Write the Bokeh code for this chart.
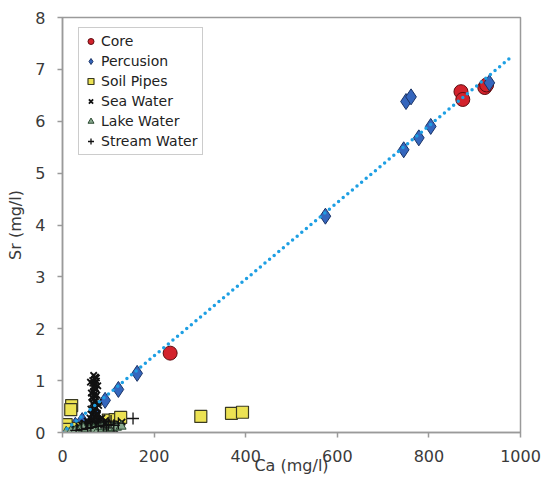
from bokeh.plotting import figure
from bokeh.models import Legend, LegendItem, FixedTicker, Range1d
from bokeh.embed import file_html
from bokeh.resources import INLINE

# Ca (mg/l) vs Sr (mg/l) by sample type
core_ca = [235, 870, 874, 922, 926]
core_sr = [1.53, 6.57, 6.42, 6.65, 6.70]

perc_ca = [28, 43, 70, 93, 122, 163, 574, 745, 750, 761, 778, 804, 932]
perc_sr = [0.14, 0.23, 0.39, 0.62, 0.83, 1.14, 4.17, 5.45, 6.38, 6.47, 5.68, 5.90, 6.74]

soil_ca = [20, 18, 8, 6, 35, 100, 115, 127, 302, 369, 393]
soil_sr = [0.52, 0.44, 0.15, 0.06, 0.08, 0.24, 0.25, 0.29, 0.31, 0.37, 0.39]

sea_ca = [68, 72, 70, 74, 66, 71, 69, 73, 67, 70, 72, 68, 71, 66, 69, 73, 67,
          70, 64, 72, 60, 75, 62, 58, 78, 55, 80, 50, 45, 85, 40, 90, 35, 95,
          30, 100, 25, 105, 20, 110, 15, 60, 65, 75, 80, 85, 52, 48, 88, 92,
          76, 63, 57, 70, 68, 73, 118, 125,
          74, 66, 70, 72, 68, 75, 65, 71, 69, 73, 67, 76, 64, 70, 72, 66,
          42, 56, 62, 84, 96, 102, 108, 114, 120, 130, 36, 46, 54, 82, 94,
          100, 112, 28, 38, 86, 98,
          77, 63, 78, 62, 76, 64, 79, 61]
sea_sr = [1.10, 1.07, 1.03, 0.99, 0.95, 0.91, 0.87, 0.83, 0.78, 0.74, 0.69,
          0.65, 0.60, 0.56, 0.51, 0.47, 0.43, 0.39, 0.35, 0.31, 0.28, 0.25,
          0.22, 0.19, 0.17, 0.15, 0.13, 0.12, 0.10, 0.11, 0.08, 0.10, 0.06,
          0.09, 0.05, 0.08, 0.04, 0.07, 0.03, 0.09, 0.02, 0.05, 0.12, 0.15,
          0.06, 0.04, 0.03, 0.18, 0.14, 0.05, 0.36, 0.20, 0.08, 0.16, 0.24,
          0.29, 0.12, 0.16,
          1.05, 1.00, 0.93, 0.86, 0.80, 0.72, 0.67, 0.62, 0.54, 0.49, 0.41,
          0.37, 0.26, 0.21, 0.14, 0.10, 0.14, 0.18, 0.09, 0.16, 0.19, 0.12,
          0.17, 0.06, 0.11, 0.20, 0.12, 0.17, 0.22, 0.26, 0.23, 0.03, 0.02,
          0.07, 0.09, 0.28, 0.04,
          0.90, 0.76, 0.58, 0.45, 0.33, 0.68, 0.52, 0.97]

lake_ca = [8, 18, 28, 38, 48, 58, 68, 78, 88, 98, 108, 118, 128, 45, 85]
lake_sr = [0.01, 0.02, 0.03, 0.04, 0.03, 0.05, 0.06, 0.05, 0.07, 0.08, 0.09,
           0.10, 0.12, 0.08, 0.11]

stream_ca = [154, 30, 42, 55, 62, 78, 90, 100, 112, 122, 84, 96, 106]
stream_sr = [0.27, 0.04, 0.06, 0.08, 0.10, 0.12, 0.13, 0.15, 0.14, 0.18, 0.20, 0.09, 0.22]

# linear trend through the whole data set
trend_ca = [0, 980]
trend_sr = [0.0, 7.24]

x_ticks = [0, 200, 400, 600, 800, 1000]
y_ticks = [0, 1, 2, 3, 4, 5, 6, 7, 8]

FONT = "DejaVu Sans"
TEXT = "#3a3a3a"
GRAYLINE = "#9a9a9a"

p = figure(width=543, height=478, output_backend="svg", toolbar_location=None,
           x_range=Range1d(0, 1000), y_range=Range1d(0, 8),
           min_border_left=62, min_border_right=23, min_border_top=17,
           min_border_bottom=46)
p.background_fill_color = "white"
p.border_fill_color = "white"
p.outline_line_color = GRAYLINE
p.outline_line_width = 1.5
p.xgrid.visible = False
p.ygrid.visible = False

r_core = p.scatter(core_ca, core_sr, marker="circle", size=14,
                   fill_color="#d3222c", line_color="#5e0c10", line_width=1)
r_perc = p.scatter(perc_ca, perc_sr, marker="diamond", size=16,
                   fill_color="#3566bd", line_color="#1a3366", line_width=1)
r_soil = p.scatter(soil_ca, soil_sr, marker="square", size=12,
                   fill_color="#ece253", line_color="#3a3a22", line_width=1.2)
r_sea = p.scatter(sea_ca, sea_sr, marker="x", size=9,
                  line_color="#111111", line_width=1.8)
r_lake = p.scatter(lake_ca, lake_sr, marker="triangle", size=10,
                   fill_color="#88a88e", line_color="#2c4a32", line_width=1)
r_stream = p.scatter(stream_ca, stream_sr, marker="cross", size=12,
                     line_color="#111111", line_width=1.3)

p.line(trend_ca, trend_sr, line_color="#1e9fe3", line_width=3.5,
       line_dash="0 6", line_cap="round")

for ax in (p.xaxis[0], p.yaxis[0]):
    ax.axis_line_color = GRAYLINE
    ax.axis_line_width = 1.5
    ax.major_tick_line_color = GRAYLINE
    ax.major_tick_line_width = 1.5
    ax.major_tick_out = 5
    ax.major_tick_in = 0
    ax.minor_tick_line_color = None
    ax.major_label_text_font = FONT
    ax.major_label_text_font_size = "16px"
    ax.major_label_text_color = TEXT
    ax.axis_label_text_font = FONT
    ax.axis_label_text_font_size = "16px"
    ax.axis_label_text_font_style = "normal"
    ax.axis_label_text_color = TEXT

p.xaxis.ticker = FixedTicker(ticks=x_ticks)
p.yaxis.ticker = FixedTicker(ticks=y_ticks)
p.xaxis.axis_label = "Ca (mg/l)"
p.yaxis.axis_label = "Sr (mg/l)"
p.xaxis.major_label_standoff = 12
p.xaxis.axis_label_standoff = -9
p.yaxis.major_label_standoff = 12
p.yaxis.axis_label_standoff = 7

legend = Legend(items=[
    LegendItem(label="Core", renderers=[r_core]),
    LegendItem(label="Percusion", renderers=[r_perc]),
    LegendItem(label="Soil Pipes", renderers=[r_soil]),
    LegendItem(label="Sea Water", renderers=[r_sea]),
    LegendItem(label="Lake Water", renderers=[r_lake]),
    LegendItem(label="Stream Water", renderers=[r_stream]),
], location=(16, 277))
legend.label_text_font = FONT
legend.label_text_font_size = "14px"
legend.label_text_color = "#222222"
legend.glyph_width = 15
legend.glyph_height = 18
legend.label_height = 18
legend.spacing = 2
legend.padding = 4
legend.margin = 0
legend.label_standoff = 3
legend.border_line_color = GRAYLINE
legend.border_line_width = 1.2
legend.background_fill_color = "white"
legend.background_fill_alpha = 1
p.add_layout(legend)

open("out.html", "w").write(file_html(p, INLINE))
